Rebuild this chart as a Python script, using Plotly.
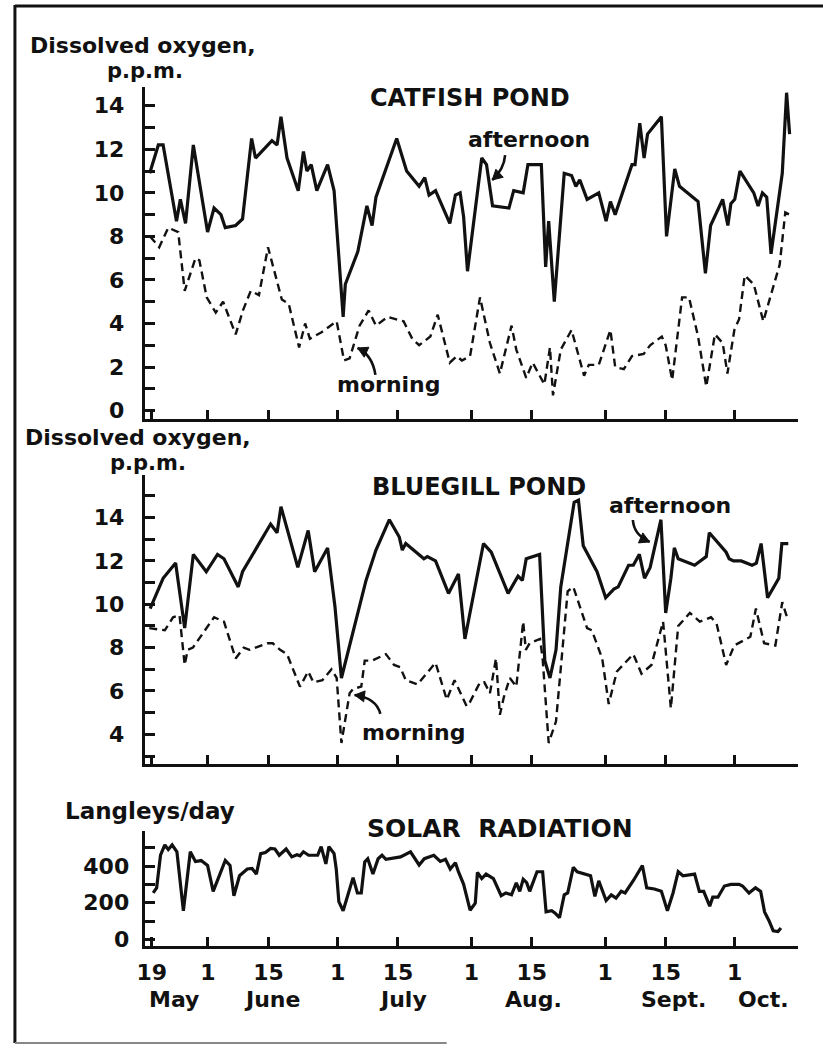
import math
import plotly.graph_objects as go

W, H = 823, 1052

# ---------------- data (x = days counted from 19 May) ----------------
catfish_pm_day = [-0.5, 1.5, 2.6, 5.7, 6.6, 7.8, 9.6, 12.9, 14.4, 16.0, 17.0, 19.4, 21.0, 23.1, 24.0,
                  27.8, 29.0, 29.9, 31.3, 33.9, 35.1, 35.9, 36.9, 38.2, 40.7, 42.2, 44.3, 44.8, 47.7,
                  49.8, 51.0, 51.9, 56.7, 59.0, 61.9, 63.2, 64.2, 65.7, 69.0, 70.3, 71.4, 72.2, 73.1,
                  76.4, 77.5, 78.9, 82.7, 83.8, 86.0, 87.1, 90.2, 91.2, 91.9, 93.2, 95.5, 97.2, 98.2,
                  99.1, 100.8, 103.5, 105.2, 106.2, 107.3, 111.2, 111.9, 113.0, 114.0, 114.8, 118.0,
                  119.2, 121.1, 122.2, 126.5, 128.2, 129.4, 132.2, 133.4, 134.1, 135.0, 136.2, 139.4,
                  140.4, 141.4, 142.4, 143.4, 146.0, 147.0, 147.7]
catfish_pm_do = [10.9, 12.2, 12.2, 8.7, 9.7, 8.6, 12.2, 8.2, 9.3, 9.0, 8.4, 8.5, 8.8, 12.5, 11.6,
                 12.4, 12.2, 13.5, 11.6, 10.1, 11.9, 11.0, 11.3, 10.1, 11.3, 10.1, 4.3, 5.8, 7.3,
                 9.4, 8.5, 9.8, 12.5, 11.0, 10.3, 10.7, 9.9, 10.1, 8.6, 9.9, 10.0, 8.9, 6.4,
                 11.6, 11.3, 9.4, 9.3, 10.1, 10.0, 11.3, 11.3, 6.6, 8.7, 5.0, 10.9, 10.8, 10.3,
                 10.6, 9.7, 10.0, 8.7, 9.6, 9.0, 11.3, 11.3, 13.2, 11.6, 12.7, 13.5,
                 8.0, 11.1, 10.3, 9.6, 6.3, 8.5, 9.7, 8.5, 9.5, 9.7, 11.0, 10.0,
                 9.4, 10.0, 9.8, 7.2, 10.9, 14.6, 12.7]

catfish_am_day = [-0.4, 1.7, 3.8, 6.1, 7.6, 10.1, 11.0, 12.7, 14.8, 16.5, 19.4, 21.1, 22.9, 24.8,
                  26.9, 30.1, 31.7, 34.1, 35.5, 36.6, 39.3, 42.8, 44.5, 45.8, 48.1, 50.2, 51.9, 54.6,
                  58.3, 60.3, 61.9, 64.5, 66.2, 69.0, 70.6, 71.8, 73.7, 76.0, 78.3, 80.6, 83.3, 84.4,
                  86.7, 88.2, 90.9, 92.2, 92.9, 94.7, 97.2, 100.1, 101.2, 103.5, 106.2, 107.3, 109.3,
                  111.2, 113.9, 115.4, 118.1, 119.0, 120.5, 122.8, 124.4, 126.5, 128.4, 130.4, 132.2,
                  133.3, 134.9, 136.0, 137.3, 139.4, 141.6, 143.7, 145.4, 146.7, 147.7]
catfish_am_do = [8.0, 7.5, 8.4, 8.2, 5.5, 7.0, 6.9, 5.2, 4.5, 5.0, 3.5, 4.6, 5.5, 5.3,
                 7.5, 5.1, 4.9, 2.9, 4.0, 3.3, 3.6, 4.1, 2.3, 2.4, 3.9, 4.6, 3.9, 4.3,
                 4.1, 3.3, 3.0, 3.4, 4.4, 2.2, 2.5, 2.3, 2.5, 5.2, 3.1, 1.7, 3.9, 2.8,
                 1.5, 2.2, 1.2, 2.9, 0.7, 2.8, 3.7, 1.6, 2.1, 2.1, 3.7, 2.0, 1.9,
                 2.5, 2.6, 3.0, 3.4, 3.0, 1.4, 5.2, 5.2, 3.4, 1.1, 3.5, 3.1,
                 1.7, 3.7, 4.2, 6.2, 5.8, 4.1, 5.5, 6.7, 9.1, 9.0]

bluegill_pm_day = [-0.4, 0.7, 2.6, 5.5, 7.6, 9.6, 12.6, 15.2, 16.7, 20.0, 21.0, 27.5, 29.0, 29.9,
                   33.8, 36.2, 37.7, 40.7, 42.4, 43.9, 49.6, 51.9, 55.0, 57.3, 58.0, 58.8, 63.0,
                   63.8, 65.7, 68.7, 71.0, 72.5, 76.8, 78.6, 82.5, 84.8, 85.8, 86.7, 89.8, 91.0,
                   92.2, 93.6, 94.7, 97.8, 98.8, 99.9, 103.1, 105.1, 107.0, 108.0, 110.4, 111.5,
                   112.9, 114.1, 115.4, 117.9, 119.0, 120.2, 121.0, 121.9, 125.7, 128.4, 129.1,
                   133.0, 133.7, 134.7, 136.5, 139.0, 140.0, 141.1, 142.6, 145.2, 145.9, 147.4]
bluegill_pm_do = [9.8, 10.3, 11.2, 11.9, 8.9, 12.3, 11.5, 12.3, 12.1, 10.8, 11.5, 13.7, 13.3, 14.5,
                  11.7, 13.4, 11.5, 12.6, 9.9, 6.6, 11.1, 12.5, 13.9, 13.1, 12.5, 12.8, 12.1,
                  12.2, 12.0, 10.5, 11.4, 8.4, 12.8, 12.4, 10.5, 11.3, 11.1, 12.1, 12.3, 7.4,
                  6.6, 7.9, 10.8, 14.7, 14.8, 12.7, 11.5, 10.3, 10.7, 10.8, 11.8, 11.8,
                  12.3, 11.2, 11.7, 13.9, 9.6, 11.2, 12.6, 12.1, 11.8, 12.2, 13.3,
                  12.4, 12.1, 12.0, 12.0, 11.8, 11.9, 12.8, 10.3, 11.2, 12.8, 12.8]

bluegill_am_day = [-0.6, 3.0, 4.9, 6.4, 7.6, 8.3, 9.5, 14.4, 16.7, 19.4, 21.3, 22.6, 26.7, 28.0,
                   29.7, 31.3, 34.3, 36.2, 37.4, 39.5, 41.6, 42.8, 43.9, 45.8, 46.6, 48.5, 49.3,
                   51.0, 54.2, 56.1, 57.5, 58.8, 61.5, 63.5, 65.7, 68.3, 70.1, 72.9, 73.7, 76.0,
                   77.0, 78.3, 79.7, 80.6, 81.5, 82.9, 84.4, 86.0, 86.6, 87.5, 89.9, 90.5, 91.9,
                   93.6, 96.3, 97.6, 100.8, 101.9, 104.3, 105.8, 107.7, 111.5, 113.4, 115.7, 118.4,
                   120.2, 121.9, 124.6, 126.9, 129.5, 130.8, 133.0, 134.9, 138.6, 139.9, 141.8,
                   144.4, 146.0, 147.1]
bluegill_am_do = [8.9, 8.8, 9.4, 9.5, 7.2, 7.9, 8.0, 9.4, 9.2, 7.5, 8.0, 7.9, 8.2, 8.2,
                  7.9, 7.7, 6.2, 6.9, 6.4, 6.5, 7.0, 6.6, 3.6, 5.9, 6.1, 6.2, 7.4,
                  7.4, 7.7, 7.2, 7.1, 6.5, 6.3, 6.8, 7.3, 5.6, 6.5, 5.3, 5.5, 6.4,
                  6.4, 5.9, 7.5, 4.9, 5.7, 6.6, 6.2, 9.2, 7.9, 8.2, 8.4, 7.5, 3.6,
                  4.6, 10.6, 10.8, 8.9, 8.8, 7.5, 5.4, 6.9, 7.7, 6.8, 7.2, 9.2,
                  5.2, 9.0, 9.6, 9.2, 9.4, 9.1, 7.2, 8.1, 8.5, 9.8, 8.2,
                  8.1, 10.1, 9.4]

solar_day = [0.3, 1.1, 2.0, 3.0, 3.8, 4.7, 5.8, 7.3, 8.9, 9.5, 10.1, 11.4, 12.9, 14.2, 17.0, 18.1,
             19.0, 20.3, 22.1, 23.2, 24.2, 25.2, 26.3, 27.5, 28.5, 29.5, 31.1, 32.4, 33.6, 34.3,
             35.1, 36.3, 38.4, 39.2, 40.3, 41.0, 42.2, 42.7, 43.3, 44.3, 46.6, 47.6, 48.5, 49.3,
             50.0, 51.2, 52.4, 53.3, 54.2, 57.6, 59.9, 61.9, 63.1, 65.3, 66.8, 68.0, 69.1, 70.3,
             71.0, 72.2, 73.7, 74.9, 75.4, 76.4, 77.4, 79.1, 80.9, 82.0, 83.3, 84.4, 85.2, 86.0,
             86.8, 87.5, 89.2, 90.5, 91.3, 92.6, 93.4, 94.4, 95.5, 96.3, 97.6, 98.5, 99.6, 101.6,
             102.6, 103.5, 105.2, 106.4, 107.5, 108.7, 109.6, 111.6, 113.6, 114.6, 116.4, 118.0,
             119.4, 120.7, 121.9, 123.0, 125.7, 126.8, 127.8, 129.2, 129.9, 131.1, 132.6, 134.1,
             136.0, 136.8, 138.3, 139.8, 141.0, 141.9, 142.9, 143.9, 145.0, 145.7]
solar_ly = [253, 281, 459, 515, 490, 515, 478, 156, 478, 450, 425, 430, 403, 262, 431, 403,
            238, 347, 384, 387, 356, 468, 474, 496, 493, 459, 493, 450, 462, 456,
            478, 459, 459, 506, 412, 506, 468, 384, 206, 156, 337, 253, 253, 422,
            440, 356, 440, 459, 437, 450, 478, 406, 440, 459, 425, 437, 384, 418,
            369, 300, 159, 197, 365, 332, 356, 332, 238, 253, 243, 309, 262, 328,
            309, 262, 369, 369, 150, 156, 143, 118, 243, 253, 393, 369, 362, 347,
            234, 319, 212, 243, 225, 262, 253, 324, 403, 281, 275, 262,
            156, 253, 369, 347, 356, 262, 262, 181, 230, 230, 291, 300,
            300, 291, 253, 281, 262, 150, 103, 47, 43, 62]

# ---------------- tick labels ----------------
x_tickvals = [0, 13, 27, 43, 57, 74, 88, 105, 119, 135]
x_ticktext = ["19", "1", "15", "1", "15", "1", "15", "1", "15", "1"]
month_names = ["May", "June", "July", "Aug.", "Sept.", "Oct."]

do1_ticks = [0, 2, 4, 6, 8, 10, 12, 14]
do1_minor = [1, 3, 5, 7, 9, 11, 13]
do2_ticks = [4, 6, 8, 10, 12, 14]
do2_minor = [3, 5, 7, 9, 11, 13, 15]
sol_ticks = [0, 200, 400]
sol_minor = [100, 300, 500]

# ---------------- styling helpers ----------------
FONT = "DejaVu Sans"
INK = "#111111"


def px(x):
    return x / W


def py(y):
    return 1 - y / H


def txt(size):
    return dict(family=FONT, size=size, color=INK, weight="bold")


X_DOMAIN = [px(138), px(798)]
X_RANGE = [-1.67, 149.7]

fig = go.Figure()

solid = dict(color=INK, width=3.2)
dashed = dict(color=INK, width=2.4, dash="8px,5px")

fig.add_trace(go.Scatter(x=catfish_pm_day, y=catfish_pm_do, mode="lines", line=solid,
                         xaxis="x", yaxis="y", name="Catfish afternoon"))
fig.add_trace(go.Scatter(x=catfish_am_day, y=catfish_am_do, mode="lines", line=dashed,
                         xaxis="x", yaxis="y", name="Catfish morning"))
fig.add_trace(go.Scatter(x=bluegill_pm_day, y=bluegill_pm_do, mode="lines", line=solid,
                         xaxis="x2", yaxis="y2", name="Bluegill afternoon"))
fig.add_trace(go.Scatter(x=bluegill_am_day, y=bluegill_am_do, mode="lines", line=dashed,
                         xaxis="x2", yaxis="y2", name="Bluegill morning"))
fig.add_trace(go.Scatter(x=solar_day, y=solar_ly, mode="lines", line=solid,
                         xaxis="x3", yaxis="y3", name="Solar radiation"))


def xaxis_style(anchor, labels):
    return dict(domain=X_DOMAIN, range=X_RANGE, anchor=anchor,
                showline=True, linewidth=3, linecolor=INK, mirror=False,
                showgrid=False, zeroline=False,
                tickmode="array", tickvals=x_tickvals, ticktext=x_ticktext,
                ticks="inside", ticklen=9, tickwidth=3, tickcolor=INK,
                showticklabels=labels, tickfont=txt(22), ticklabelstandoff=5)


def yaxis_style(anchor, dom, rng, major, minor, standoff):
    return dict(domain=dom, range=rng, anchor=anchor,
                showline=True, linewidth=3, linecolor=INK,
                showgrid=False, zeroline=False,
                tickmode="array", tickvals=major, ticktext=[str(v) for v in major],
                ticks="inside", ticklen=10, tickwidth=3, tickcolor=INK,
                minor=dict(tickmode="array", tickvals=minor, ticks="inside",
                           ticklen=10, tickwidth=3, tickcolor=INK, showgrid=False),
                tickfont=txt(22), ticklabelstandoff=standoff)


fig.update_layout(
    width=W, height=H,
    margin=dict(l=0, r=0, t=0, b=0),
    paper_bgcolor="white", plot_bgcolor="white",
    showlegend=False,
    xaxis=xaxis_style("y", False),
    xaxis2=xaxis_style("y2", False),
    xaxis3=xaxis_style("y3", True),
    yaxis=yaxis_style("x", [py(421), py(88)], [-0.37, 14.84], do1_ticks, do1_minor, 13),
    yaxis2=yaxis_style("x2", [py(768), py(478)], [2.65, 15.95], do2_ticks, do2_minor, 13),
    yaxis3=yaxis_style("x3", [py(951), py(836)], [-34, 590], sol_ticks, sol_minor, 8),
)

# ---------------- text ----------------
def label(text, x, y, size, anchor="left"):
    fig.add_annotation(text=text, x=px(x), y=py(y), xref="paper", yref="paper",
                       xanchor=anchor, yanchor="middle", showarrow=False, font=txt(size))


label("Dissolved oxygen,", 20, 46, 22)
label("p.p.m.", 98, 71, 21)
label("CATFISH POND", 364, 99, 24)
label("afternoon", 463, 140, 22)
label("morning", 330, 387, 22)

label("Dissolved oxygen,", 15, 440, 22)
label("p.p.m.", 101, 466, 21)
label("BLUEGILL POND", 366, 490, 24)
label("afternoon", 605, 508, 22)
label("morning", 355, 737, 22)

label("Langleys/day", 56, 816, 23)
label("SOLAR\u00a0 RADIATION", 361, 833, 25)

month_centres = [5.2, 27.9, 58.2, 88.5, 120.8, 141.7]
for name, d in zip(month_names, month_centres):
    fig.add_annotation(text=name, x=d, y=py(1005), xref="x3", yref="paper",
                       xanchor="center", yanchor="middle", showarrow=False, font=txt(22))


# ---------------- curved pointer arrows ----------------
def curved_arrow(tail, ctrl, tip, head_len=10, head_w=5.5):
    def P(p):
        return f"{px(p[0]):.5f},{py(p[1]):.5f}"
    fig.add_shape(type="path", xref="paper", yref="paper",
                  path=f"M {P(tail)} Q {P(ctrl)} {P(tip)}",
                  line=dict(color=INK, width=2.6))
    dx, dy = tip[0] - ctrl[0], tip[1] - ctrl[1]
    n = math.hypot(dx, dy)
    ux, uy = dx / n, dy / n
    bx, by = tip[0] - ux * head_len, tip[1] - uy * head_len
    left = (bx - uy * head_w, by + ux * head_w)
    right = (bx + uy * head_w, by - ux * head_w)
    fig.add_shape(type="path", xref="paper", yref="paper",
                  path=f"M {P(tip)} L {P(left)} L {P(right)} Z",
                  fillcolor=INK, line=dict(color=INK, width=1))


curved_arrow((502, 156), (501, 170), (489, 181))
curved_arrow((371, 377), (368, 357), (353, 350))
curved_arrow((631, 523), (632, 538), (648, 545))
curved_arrow((376, 718), (372, 702), (350, 699))

# ---------------- frame ----------------
fig.add_shape(type="line", xref="paper", yref="paper", x0=px(7), x1=px(7), y0=py(5), y1=py(1049),
              line=dict(color=INK, width=3))
fig.add_shape(type="line", xref="paper", yref="paper", x0=px(7), x1=px(823), y0=py(6), y1=py(6),
              line=dict(color=INK, width=3))
fig.add_shape(type="line", xref="paper", yref="paper", x0=px(7), x1=px(443), y0=py(1049), y1=py(1049),
              line=dict(color="#888888", width=2))

fig.write_html("out.html")
